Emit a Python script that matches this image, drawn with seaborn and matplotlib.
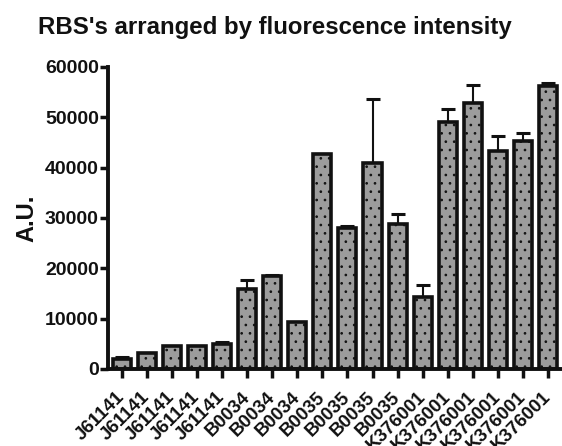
import numpy as np
import pandas as pd
import matplotlib
matplotlib.use("Agg")
import matplotlib.pyplot as plt
import seaborn as sns
from matplotlib.transforms import ScaledTranslation

# RBS parts, ordered by fluorescence
labels = ["J61141"] * 5 + ["B0034"] * 3 + ["B0035"] * 4 + ["K376001"] * 6
means = [2000, 3100, 4500, 4500, 5000, 15800, 18400, 9400,
         42600, 28000, 41000, 28700, 14300, 49000, 52900, 43300, 45200, 56200]
errs = [300, 0, 0, 0, 300, 1800, 300, 0,
        0, 300, 12700, 2100, 2300, 2600, 3500, 3000, 1700, 700]

sns.set_theme(style="ticks")
plt.rcParams["font.family"] = ["Liberation Sans", "DejaVu Sans"]
plt.rcParams["hatch.linewidth"] = 0.7
plt.rcParams["hatch.color"] = "#333333"

df = pd.DataFrame({"pos": [str(i) for i in range(len(labels))], "val": means})

fig = plt.figure(figsize=(5.62, 4.46), dpi=100)
ax = fig.add_axes([0.192, 0.173, 0.81, 0.677])

sns.barplot(data=df, x="pos", y="val", color="#9c9c9c", width=0.72,
            edgecolor="#111111", linewidth=2.6, saturation=1, ax=ax)
for p in ax.patches:
    p.set_hatch("..")
    p.set_zorder(2)

x = np.arange(len(labels))
ax.errorbar(x, means, yerr=[np.zeros(len(errs)), errs], fmt="none",
            ecolor="#111111", elinewidth=1.5, capsize=5, capthick=2.2, zorder=1)

ax.set_ylim(0, 60000)
ax.set_xlim(-0.55, 17.6)
ax.set_yticks(range(0, 60001, 10000))
ax.set_xticks(x)
ax.set_xticklabels(labels, rotation=45, ha="right", va="center",
                   rotation_mode="anchor", fontweight="bold", fontsize=13.5,
                   color="#111111")
shift = ScaledTranslation(6 / 100, 0, fig.dpi_scale_trans)
for t in ax.get_xticklabels():
    t.set_transform(t.get_transform() + shift)
for t in ax.get_yticklabels():
    t.set_fontweight("bold")
    t.set_fontsize(14)
    t.set_color("#111111")
ax.tick_params(axis="y", width=2.5, length=5.5, color="#111111", pad=1)
ax.tick_params(axis="x", width=2.5, length=6.5, color="#111111", pad=12)
ax.set_xlabel("")
ax.set_ylabel("A.U.", fontsize=17, fontweight="bold", labelpad=5, color="#111111")
for s in ["left", "bottom"]:
    ax.spines[s].set_linewidth(2.8)
    ax.spines[s].set_color("#111111")
sns.despine(ax=ax)

fig.text(0.489, 0.939, "RBS's arranged by fluorescence intensity",
         ha="center", va="center", fontsize=17.3, fontweight="bold",
         color="#111111")

fig.savefig("out.png", dpi=100)
